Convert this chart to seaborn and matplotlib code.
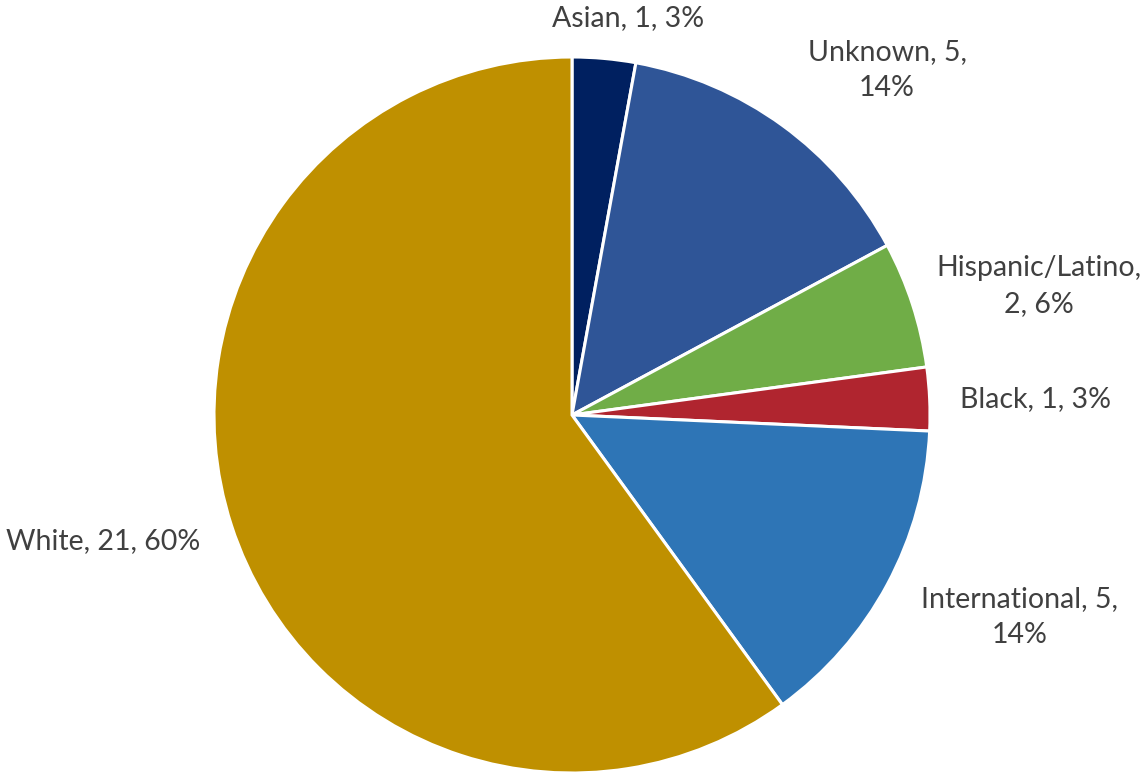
import matplotlib
matplotlib.use("Agg")
import matplotlib.pyplot as plt
import seaborn as sns

sns.set_theme(style="white")
plt.rcParams["font.family"] = ["Lato", "DejaVu Sans"]

categories = ["Asian", "Unknown", "Hispanic/Latino", "Black", "International", "White"]
counts = [1, 5, 2, 1, 5, 21]
percent_labels = ["3%", "14%", "6%", "3%", "14%", "60%"]
colors = ["#002060", "#2F5597", "#70AD47", "#B0252F", "#2E75B6", "#BF9000"]

# where each label wraps: 0 = one line, 1 = after the name, 2 = after the count
label_wrap = [0, 2, 1, 0, 2, 0]
# label anchor points in axes data units (pie radius = 1)
label_pos = [(0.157, 1.109), (0.880, 0.964), (1.304, 0.360), (1.296, 0.045),
             (1.251, -0.564), (-1.310, -0.352)]

W, H = 1143, 775
cx, cy, R = 572, 415, 358

fig = plt.figure(figsize=(W / 100, H / 100), dpi=100)
ax = fig.add_axes([0, 0, 1, 1])

ax.pie(counts, colors=colors, startangle=90, counterclock=False, radius=1.0,
       wedgeprops=dict(edgecolor="white", linewidth=2.2))

ax.set_xlim(-cx / R, (W - cx) / R)
ax.set_ylim(-(H - cy) / R, cy / R)
ax.set_aspect("equal")
ax.axis("off")

for name, n, pct, wrap, (x, y) in zip(categories, counts, percent_labels, label_wrap, label_pos):
    if wrap == 1:
        text = f"{name},\n{n}, {pct}"
    elif wrap == 2:
        text = f"{name}, {n},\n{pct}"
    else:
        text = f"{name}, {n}, {pct}"
    ax.text(x, y, text, ha="center", va="center", fontsize=20.5,
            color="#404040", linespacing=1.5)

fig.savefig("out.png", dpi=100)
